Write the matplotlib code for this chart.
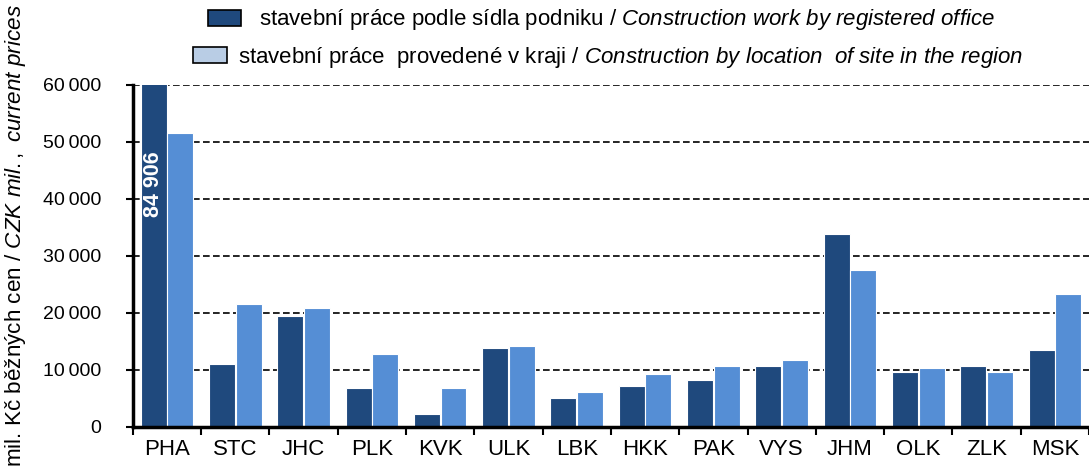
import matplotlib

matplotlib.use("Agg")
import matplotlib.pyplot as plt
import numpy as np
from matplotlib.patches import Patch
from matplotlib.ticker import FuncFormatter, FixedLocator

plt.rcParams["font.family"] = ["Liberation Sans", "DejaVu Sans"]
plt.rcParams["mathtext.fontset"] = "custom"
plt.rcParams["mathtext.rm"] = "Liberation Sans"
plt.rcParams["mathtext.it"] = "Liberation Sans:italic"

regions = ["PHA", "STC", "JHC", "PLK", "KVK", "ULK", "LBK", "HKK", "PAK", "VYS", "JHM", "OLK", "ZLK", "MSK"]
by_office = [84906, 11100, 19450, 6850, 2300, 13850, 5050, 7150, 8200, 10650, 33800, 9600, 10650, 13450]
by_site = [51500, 21650, 20800, 12800, 6850, 14200, 6100, 9250, 10650, 11700, 27500, 10300, 9600, 23300]
peak_label = "84 906"

dark = "#1f497d"
light = "#558ed5"

fig = plt.figure(figsize=(10.89, 4.70), dpi=100)
ax = fig.add_axes([0.122, 0.0915, 0.878, 0.728])

x = np.arange(len(regions))
w = 0.38
ax.bar(x - 0.195, by_office, w, color=dark, edgecolor="white", linewidth=0.8, zorder=3)
ax.bar(x + 0.195, by_site, w, color=light, edgecolor="white", linewidth=0.8, zorder=3)

ax.set_xlim(-0.5, len(regions) - 0.5)
ax.set_ylim(0, 60000)
ax.set_yticks(np.arange(0, 60001, 10000))
ax.yaxis.set_major_formatter(FuncFormatter(lambda v, p: f"{int(v):,}".replace(",", "\u2009")))
for v in range(10000, 60001, 10000):
    ax.axhline(v, color="black", linestyle=(0, (4, 2)), linewidth=1.2, zorder=1)

ax.set_xticks(x)
ax.set_xticklabels(regions)
ax.xaxis.set_minor_locator(FixedLocator(np.arange(-0.5, len(regions), 1.0)))
ax.tick_params(axis="x", which="major", length=0, labelsize=16, pad=9)
ax.tick_params(axis="x", which="minor", length=6, width=1.5, direction="out")
ax.tick_params(axis="y", length=5, width=1.5, labelsize=14, pad=18)

for s in ["top", "right"]:
    ax.spines[s].set_visible(False)
for s in ["left", "bottom"]:
    ax.spines[s].set_linewidth(2.5)
    ax.spines[s].set_zorder(4)

ax.text(0 - 0.195, 42500, peak_label, rotation=90, color="white", fontsize=15.5,
        fontweight="bold", ha="center", va="center", zorder=5)

fig.text(0.014, 0.498, "mil. Kč běžných cen / $\\it{CZK\\ mil.,\\ current\\ prices}$",
         rotation=90, ha="center", va="center", fontsize=16.2)

h1 = Patch(facecolor=dark, edgecolor="black", linewidth=1.2)
h2 = Patch(facecolor="#b9cde5", edgecolor="black", linewidth=1.2)
leg1 = fig.legend([h1], ["stavební práce podle sídla podniku / $\\it{Construction\\ work\\ by\\ registered\\ office}$"],
                  loc="center", bbox_to_anchor=(601 / 1089, 1 - 20 / 470), frameon=False, fontsize=16,
                  handlelength=1.5, handleheight=0.75, handletextpad=0.8, borderpad=0)
leg2 = fig.legend([h2], ["stavební práce  provedené v kraji / $\\it{Construction\\ by\\ location\\ \\ of\\ site\\ in\\ the\\ region}$"],
                  loc="center", bbox_to_anchor=(608 / 1089, 1 - 57 / 470), frameon=False, fontsize=16,
                  handlelength=1.5, handleheight=0.75, handletextpad=0.5, borderpad=0)

fig.savefig("out.png", dpi=100)
